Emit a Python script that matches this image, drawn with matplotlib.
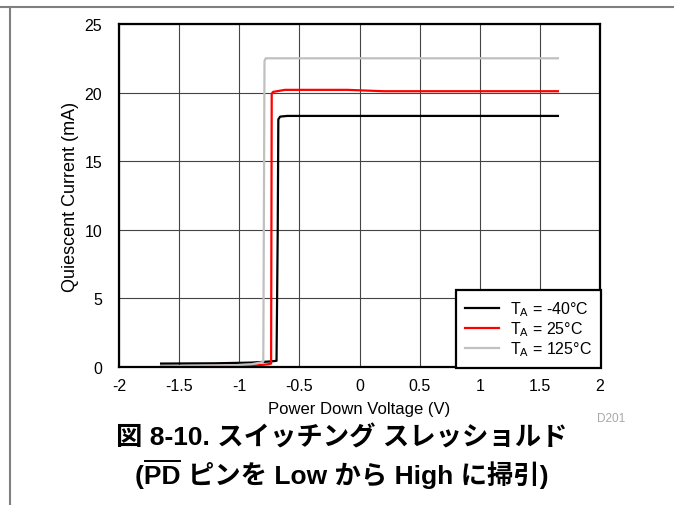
import matplotlib
matplotlib.use("Agg")
import matplotlib.pyplot as plt
from matplotlib.lines import Line2D

plt.rcParams['font.family'] = ['Liberation Sans', 'Noto Sans CJK JP', 'DejaVu Sans']

# -40 C
x_cold = [-1.65, -1.2, -0.9, -0.75, -0.69, -0.68, -0.675, -0.66, -0.6, 0.0, 1.0, 1.65]
y_cold = [0.25, 0.27, 0.32, 0.40, 0.45, 10.0, 18.05, 18.25, 18.3, 18.3, 18.3, 18.3]
# 25 C
x_room = [-1.65, -1.0, -0.85, -0.76, -0.735, -0.73, -0.72, -0.62, -0.4, -0.1, 0.2, 1.65]
y_room = [0.05, 0.08, 0.12, 0.20, 0.25, 19.9, 20.05, 20.2, 20.2, 20.2, 20.1, 20.1]
# 125 C
x_hot = [-1.65, -1.1, -0.9, -0.81, -0.80, -0.79, -0.78, 1.65]
y_hot = [0.05, 0.10, 0.20, 0.35, 0.40, 22.3, 22.5, 22.5]

labels = [r'T$_\mathregular{A}$ = -40°C', r'T$_\mathregular{A}$ = 25°C', r'T$_\mathregular{A}$ = 125°C']
colors = ['#000000', '#ff0000', '#c0c0c0']

x_ticks = [-2, -1.5, -1, -0.5, 0, 0.5, 1, 1.5, 2]
x_tick_labels = ['-2', '-1.5', '-1', '-0.5', '0', '0.5', '1', '1.5', '2']
y_ticks = [0, 5, 10, 15, 20, 25]

W, H = 674, 506
fig = plt.figure(figsize=(W / 100, H / 100), dpi=100)

# page frame lines
fig.add_artist(Line2D([0, 1], [1 - 7.5 / H, 1 - 7.5 / H], transform=fig.transFigure, color='#808080', lw=1.5))
fig.add_artist(Line2D([9.5 / W, 9.5 / W], [0, 1 - 7.5 / H], transform=fig.transFigure, color='#808080', lw=1.5))

ax = fig.add_axes([119 / W, (H - 368) / H, 481 / W, 343 / H])

for xs, ys, c, lab in zip([x_cold, x_room, x_hot], [y_cold, y_room, y_hot], colors, labels):
	ax.plot(xs, ys, color=c, lw=1.6, label=lab, solid_joinstyle='round')

ax.set_xlim(-2, 2)
ax.set_ylim(0, 25)
ax.set_xticks(x_ticks)
ax.set_yticks(y_ticks)
ax.set_xticklabels(x_tick_labels)
ax.tick_params(length=0, labelsize=11.5, colors='black')
ax.tick_params(axis='x', pad=8)
ax.tick_params(axis='y', pad=12)
ax.grid(True, color='#444444', lw=0.8)
ax.set_axisbelow(True)
for s in ax.spines.values():
	s.set_linewidth(1.6)
	s.set_color('black')

ax.set_xlabel('Power Down Voltage (V)', fontsize=12, labelpad=6)
ax.set_ylabel('Quiescent Current (mA)', fontsize=13, labelpad=4)

leg = ax.legend(loc='lower right', bbox_to_anchor=(1.003, -0.003), borderaxespad=0, fontsize=11.5,
	fancybox=False, framealpha=1, edgecolor='black', handlelength=2.1, handletextpad=0.7,
	labelspacing=0.1, borderpad=0.6)
leg.get_frame().set_linewidth(1.6)

fig.text(597 / W, 1 - 422 / H, 'D201', fontsize=8.5, color='#a8a8a8', ha='left', va='baseline')

cx = 342 / W
title_size = 19
title_kw = dict(fontsize=title_size, fontweight='bold', ha='center', va='baseline')
fig.text(cx, 1 - 446 / H, '図 8-10. スイッチング スレッショルド', **title_kw)
line2 = '(PD ピンを Low から High に掃引)'
base2 = 484
t2 = fig.text(cx, 1 - base2 / H, line2, **title_kw)

# overline over "PD"
fig.canvas.draw()
r = fig.canvas.get_renderer()
bb = t2.get_window_extent(r)
tmp_kw = dict(fontsize=title_size, fontweight='bold', ha='left', va='baseline')
ta = fig.text(0, 0, '(', **tmp_kw)
tb = fig.text(0, 0, '(PD', **tmp_kw)
wa = ta.get_window_extent(r).width
wb = tb.get_window_extent(r).width
ta.remove()
tb.remove()
y_ol = base2 - 22
fig.add_artist(Line2D([(bb.x0 + wa + 1) / W, (bb.x0 + wb - 1) / W], [1 - y_ol / H, 1 - y_ol / H],
	transform=fig.transFigure, color='black', lw=1.4))

fig.savefig('out.png', dpi=100)
